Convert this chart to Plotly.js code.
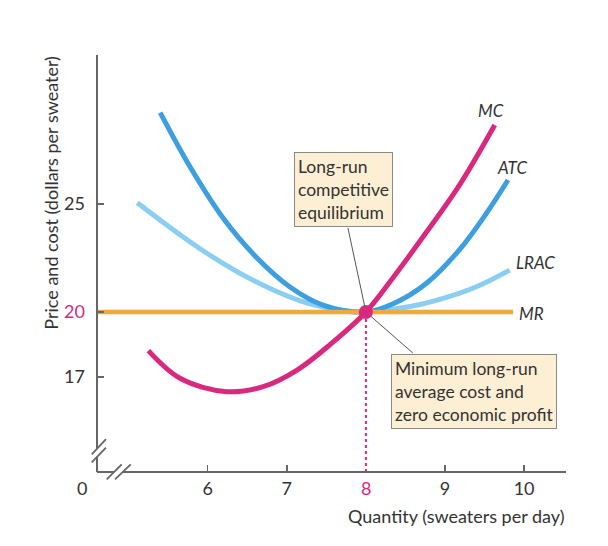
<!DOCTYPE html>
<html>
<head>
<meta charset="utf-8">
<script src="https://cdn.plot.ly/plotly-3.0.1.min.js"></script>
<style>html,body{margin:0;padding:0;background:#fff;}#chart{width:608px;height:546px;}</style>
</head>
<body>
<div id="chart"></div>
<script>
// ---- data ----
const mcX   = [5.25, 5.65, 6.24, 6.70, 7.13, 7.55, 8.00, 8.345, 8.766, 9.187, 9.629];
const mcY   = [18.21, 16.93, 16.31, 16.54, 17.31, 18.50, 20.00, 21.60, 23.70, 25.90, 28.66];
const atcX  = [5.399, 5.778, 6.194, 6.611, 7.040, 7.457, 8.00, 8.345, 8.766, 9.187, 9.524, 9.797];
const atcY  = [29.23, 26.71, 24.35, 22.55, 21.16, 20.32, 20.00, 20.38, 21.33, 22.90, 24.57, 26.11];
const lracX = [5.109, 5.567, 5.989, 6.409, 6.830, 7.251, 7.672, 8.00, 8.556, 8.976, 9.398, 9.818];
const lracY = [25.06, 23.80, 22.72, 21.79, 21.02, 20.42, 20.09, 20.00, 20.25, 20.63, 21.17, 21.94];
const mrX   = [4.60, 9.86];
const mrY   = [20, 20];
const eqQ = 8, eqP = 20;
const xTicks = [6, 7, 9, 10];
const yTicks = [17, 20, 25];
const xRange = [4.6, 10.53];
const yRange = [12.59, 31.9];

const MAG = '#d9297f', BLUE = '#3d9fe0', LBLUE = '#8acef2', ORANGE = '#f0a93c', GREY = '#666';
const FONT = 'Lato, "Noto Sans", sans-serif';
const TXT = '#333';

const traces = [
  {x: lracX, y: lracY, mode: 'lines', line: {color: LBLUE, width: 5, shape: 'spline', smoothing: 1}, hoverinfo: 'skip'},
  {x: atcX, y: atcY, mode: 'lines', line: {color: BLUE, width: 5, shape: 'spline', smoothing: 1}, hoverinfo: 'skip'},
  {x: mrX, y: mrY, mode: 'lines', line: {color: ORANGE, width: 4.5}, hoverinfo: 'skip'},
  {x: mcX, y: mcY, mode: 'lines', line: {color: MAG, width: 5, shape: 'spline', smoothing: 1}, hoverinfo: 'skip'},
  {x: [eqQ, eqQ], y: [yRange[0], eqP], mode: 'lines', line: {color: MAG, width: 2, dash: 'dot'}, hoverinfo: 'skip'},
  {x: [eqQ], y: [eqP], mode: 'markers', marker: {color: MAG, size: 14, symbol: 'circle'}, hoverinfo: 'skip'}
];

function seg(x0, y0, x1, y1, w, c) {
  return {type: 'line', xref: 'paper', yref: 'paper', x0, y0, x1, y1, line: {color: c || GREY, width: w || 2}, layer: 'above'};
}
function dline(x0, y0, x1, y1) {
  return {type: 'line', xref: 'x', yref: 'y', x0, y0, x1, y1, line: {color: '#555', width: 1}, layer: 'below'};
}

const shapes = [
  // y axis with break
  seg(0, 0, 0, 0.0365), seg(0, 0.0564, 0, 1),
  seg(-0.0113, 0.0424, 0.0192, 0.0791, 1.8), seg(-0.0113, 0.0233, 0.0192, 0.0583, 1.8),
  // x axis with break
  seg(0, 0, 0.0362, 0), seg(0.0554, 0, 1, 0),
  seg(0.0207, -0.0175, 0.0527, 0.0185, 1.8), seg(0.0384, -0.0175, 0.0719, 0.0185, 1.8),
  // leader lines
  dline(7.773, 23.89, eqQ, eqP),
  dline(8.593, 18.10, eqQ, eqP)
];

const boxStyle = {bgcolor: '#fdefd3', bordercolor: '#8a8a8a', borderwidth: 1, borderpad: 3, align: 'left', showarrow: false,
                  xanchor: 'center', yanchor: 'middle', font: {family: FONT, size: 17.5, color: TXT}};
const lab = (x, y, t) => ({xref: 'x', yref: 'y', x, y, text: t, showarrow: false, xanchor: 'center', yanchor: 'middle',
                           font: {family: FONT, size: 17, color: TXT, style: 'italic'}});

const annotations = [
  Object.assign({xref: 'x', yref: 'y', x: 7.716, y: 25.67, text: 'Long-run<br>competitive<br>equilibrium'}, boxStyle),
  Object.assign({xref: 'x', yref: 'y', x: 9.37, y: 16.32, text: 'Minimum long-run<br>average cost and<br>zero economic profit'}, boxStyle),
  lab(9.578, 29.35, 'MC'),
  lab(9.843, 26.67, 'ATC'),
  lab(10.15, 22.27, 'LRAC'),
  lab(10.10, 19.95, 'MR'),
  {xref: 'x', yref: 'paper', x: eqQ, y: 0, yshift: -16, xanchor: 'center', yanchor: 'middle', text: String(eqQ), showarrow: false, font: {family: FONT, size: 18, color: MAG}},
  {xref: 'paper', yref: 'paper', x: -0.032, y: 0, yshift: -16, xanchor: 'center', yanchor: 'middle', text: '0', showarrow: false, font: {family: FONT, size: 18, color: TXT}},
  {xref: 'paper', yref: 'paper', x: 1, y: 0, xanchor: 'right', yanchor: 'middle', yshift: -44, text: 'Quantity (sweaters per day)', showarrow: false, font: {family: FONT, size: 18, color: TXT}},
  {xref: 'paper', yref: 'paper', x: -0.098, y: 0.670, xanchor: 'center', yanchor: 'middle', textangle: -90, text: 'Price and cost (dollars per sweater)', showarrow: false, font: {family: FONT, size: 18, color: TXT}}
];

const layout = {
  width: 608, height: 546,
  margin: {l: 97, r: 42, t: 55, b: 74},
  paper_bgcolor: '#fff', plot_bgcolor: '#fff',
  showlegend: false,
  font: {family: FONT, color: TXT, size: 18},
  xaxis: {range: xRange, tickvals: xTicks, ticktext: xTicks.map(String), ticks: 'inside', ticklen: 7, tickwidth: 1.5, tickcolor: GREY,
          ticklabelstandoff: 4,
          showline: false, showgrid: false, zeroline: false, tickfont: {family: FONT, size: 18, color: TXT}, fixedrange: true},
  yaxis: {range: yRange, tickvals: yTicks, ticktext: yTicks.map(v => v === eqP ? '<span style="color:' + MAG + '">' + v + '</span>' : String(v)),
          ticks: 'inside', ticklen: 7, tickwidth: 1.5, tickcolor: GREY, ticklabelstandoff: 11,
          showline: false, showgrid: false, zeroline: false, tickfont: {family: FONT, size: 18, color: TXT}, fixedrange: true},
  shapes, annotations
};

Plotly.newPlot('chart', traces, layout, {displayModeBar: false, staticPlot: true});
</script>
</body>
</html>
